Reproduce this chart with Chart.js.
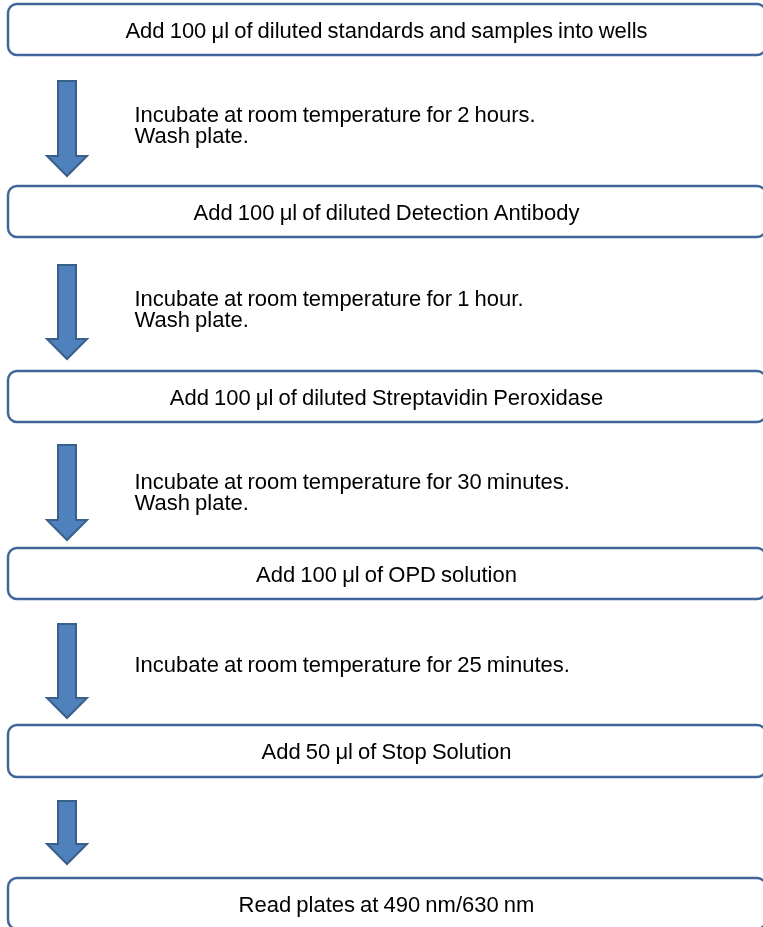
<!DOCTYPE html>
<html>
<head>
<meta charset="utf-8">
<script src="https://cdn.jsdelivr.net/npm/chart.js@4.4.1/dist/chart.umd.min.js"></script>
<style>
  html, body { margin: 0; padding: 0; background: #fff; overflow: hidden; }
  canvas { display: block; }
</style>
</head>
<body>
<canvas id="flowChart" width="763" height="927"></canvas>
<script>
// step texts (boxes) and the notes beside each arrow
const steps = [
  "Add 100 \u03bcl of diluted standards and samples into wells",
  "Add 100 \u03bcl of diluted Detection Antibody",
  "Add 100 \u03bcl of diluted Streptavidin Peroxidase",
  "Add 100 \u03bcl of OPD solution",
  "Add 50 \u03bcl of Stop Solution",
  "Read plates at 490 nm/630 nm"
];
const notes = [
  ["Incubate at room temperature for 2 hours.", "Wash plate."],
  ["Incubate at room temperature for 1 hour.", "Wash plate."],
  ["Incubate at room temperature for 30 minutes.", "Wash plate."],
  ["Incubate at room temperature for 25 minutes."],
  []
];

// layout (page units on the hidden axes)
const layout = {
  boxLeft: 8, boxRight: 766, radius: 9,
  boxTop: [4, 186, 371, 548, 725, 878],
  boxBottom: [55, 237, 422, 599, 777, 929],
  arrowX: 67, shaftHalf: 9, headHalf: 20, headLen: 20,
  arrowTop: [81, 265, 445, 624, 801],
  arrowTip: [176, 359, 540, 718, 864],
  noteX: 134.5,
  noteBaseline: [122, 305.5, 489, 671.5, 0],
  lineGap: 21
};

const font = '22px "Liberation Sans", Arial, sans-serif';

const flowPlugin = {
  id: 'flow',
  afterDraw(chart) {
    const ctx = chart.ctx;
    const xs = chart.scales.x, ys = chart.scales.y;
    const px = v => xs.getPixelForValue(v);
    const py = v => ys.getPixelForValue(v);

    ctx.save();
    // boxes
    steps.forEach((label, i) => {
      const x0 = px(layout.boxLeft), x1 = px(layout.boxRight);
      const y0 = py(layout.boxTop[i]), y1 = py(layout.boxBottom[i]);
      ctx.beginPath();
      ctx.roundRect(x0, y0, x1 - x0, y1 - y0, layout.radius);
      ctx.fillStyle = '#ffffff';
      ctx.fill();
      ctx.lineWidth = 2.5;
      ctx.strokeStyle = '#41679a';
      ctx.stroke();

      ctx.font = font;
      if ('wordSpacing' in ctx) ctx.wordSpacing = '-1px';
      ctx.fillStyle = '#000000';
      ctx.textAlign = 'center';
      ctx.textBaseline = 'alphabetic';
      ctx.fillText(label, px(386.5), py((layout.boxTop[i] + layout.boxBottom[i]) / 2 + 8));
    });

    // arrows
    layout.arrowTop.forEach((top, i) => {
      const cx = layout.arrowX, tip = layout.arrowTip[i], neck = tip - layout.headLen;
      ctx.beginPath();
      ctx.moveTo(px(cx - layout.shaftHalf), py(top));
      ctx.lineTo(px(cx + layout.shaftHalf), py(top));
      ctx.lineTo(px(cx + layout.shaftHalf), py(neck));
      ctx.lineTo(px(cx + layout.headHalf), py(neck));
      ctx.lineTo(px(cx), py(tip));
      ctx.lineTo(px(cx - layout.headHalf), py(neck));
      ctx.lineTo(px(cx - layout.shaftHalf), py(neck));
      ctx.closePath();
      ctx.fillStyle = '#4f81bd';
      ctx.fill();
      ctx.lineWidth = 2;
      ctx.lineJoin = 'miter';
      ctx.strokeStyle = '#3a5f8b';
      ctx.stroke();

      // notes
      ctx.font = font;
      ctx.fillStyle = '#000000';
      ctx.textAlign = 'left';
      notes[i].forEach((line, j) => {
        ctx.fillText(line, px(layout.noteX), py(layout.noteBaseline[i] + j * layout.lineGap));
      });
    });
    ctx.restore();
  }
};

new Chart(document.getElementById('flowChart'), {
  type: 'scatter',
  data: { datasets: [{ data: [], pointRadius: 0 }] },
  options: {
    responsive: false,
    animation: false,
    devicePixelRatio: 1,
    layout: { padding: 0 },
    scales: {
      x: { type: 'linear', min: 0, max: 763, display: false },
      y: { type: 'linear', min: 0, max: 927, reverse: true, display: false }
    },
    plugins: {
      legend: { display: false },
      tooltip: { enabled: false }
    }
  },
  plugins: [flowPlugin]
});
</script>
</body>
</html>
